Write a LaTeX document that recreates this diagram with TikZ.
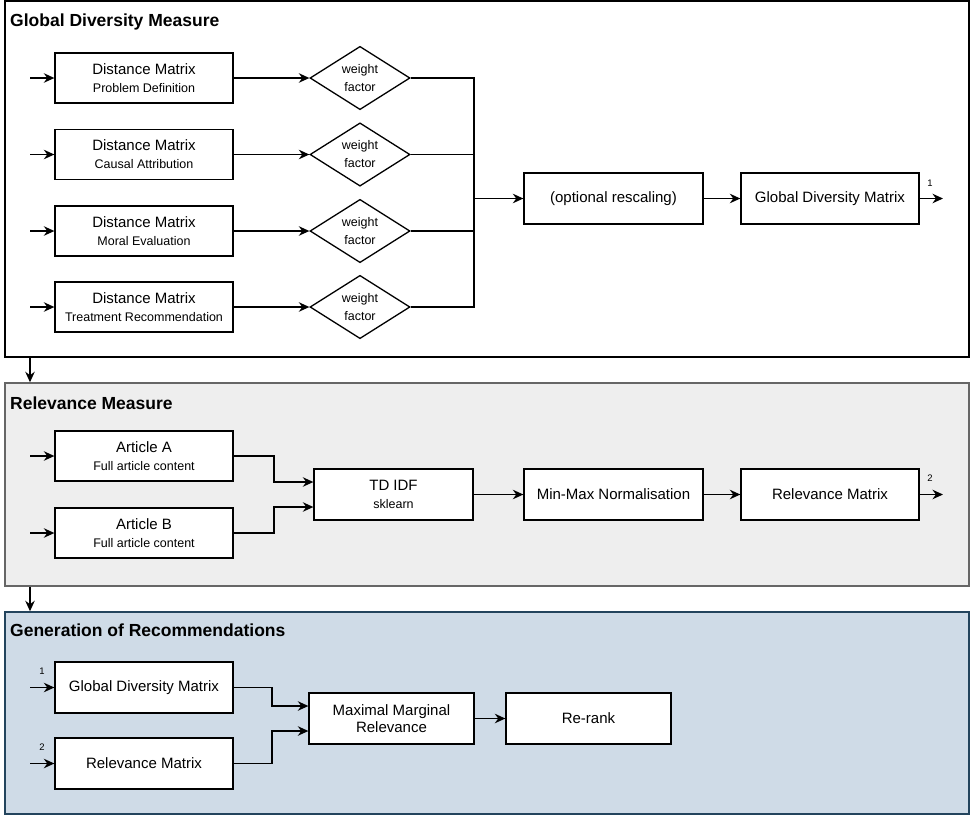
\documentclass[tikz,border=0pt]{standalone}
\usepackage{fontspec}
\setmainfont{Liberation Sans}
\usetikzlibrary{arrows.meta,shapes.geometric}
\definecolor{relfill}{HTML}{EEEEEE}
\definecolor{reldraw}{HTML}{666666}
\definecolor{genfill}{HTML}{CFDBE7}
\definecolor{gendraw}{HTML}{23445D}
\newcommand\subtxt[1]{{\fontsize{12.5}{15}\selectfont #1}}
\begin{document}
\begin{tikzpicture}[x=1pt,y=-1pt,
  section/.style={draw, line width=1.5pt, inner sep=0pt},
  sectitle/.style={anchor=west, inner sep=0pt, font=\fontsize{17.5}{20}\selectfont\bfseries},
  box/.style={draw, fill=white, line width=1.3pt, minimum width=178pt, minimum height=50pt, inner sep=0pt, align=center, font=\fontsize{15}{18}\selectfont},
  wdiam/.style={draw, fill=white, diamond, line width=1.3pt, minimum width=100pt, minimum height=63pt, inner sep=0pt, align=center, font=\fontsize{12.5}{18}\selectfont},
  arr/.style={line width=1.4pt, -{Stealth[length=10.5pt,width=9.5pt]}},
  conn/.style={line width=1.4pt},
  num/.style={inner sep=0pt, font=\fontsize{9.5}{11}\selectfont}
]
\useasboundingbox (0,0) rectangle (970,815);

% ---------- sections ----------
\node[section, fill=white, minimum width=964pt, minimum height=356pt] (gsec) at (487,179) {};
\node[section, fill=relfill, draw=reldraw, minimum width=964pt, minimum height=203pt] (rsec) at (487,484.5) {};
\node[section, fill=genfill, draw=gendraw, minimum width=964pt, minimum height=202pt] (nsec) at (487,713) {};

\node[sectitle] (gtitle) at (10,22) {Global Diversity Measure};
\node[sectitle] (rtitle) at (10,403) {Relevance Measure};
\node[sectitle] (ntitle) at (10,630) {Generation of Recommendations};

\coordinate (secx) at (30,0);
\draw[arr] (gsec.south -| secx) -- (rsec.north -| secx);
\draw[arr] (rsec.south -| secx) -- (nsec.north -| secx);

% ---------- Global Diversity Measure ----------
\node[box] (dm1) at (144,78) {Distance Matrix\\\subtxt{Problem Definition}};
\node[box] (dm2) at (144,154.5) {Distance Matrix\\\subtxt{Causal Attribution}};
\node[box] (dm3) at (144,231) {Distance Matrix\\\subtxt{Moral Evaluation}};
\node[box] (dm4) at (144,307) {Distance Matrix\\\subtxt{Treatment Recommendation}};

\foreach \i/\y in {1/78,2/154.5,3/231,4/307}{
  \coordinate (gin\i) at (30,\y);
  \node[wdiam] (w\i) at (360,\y) {weight\\factor};
  \draw[arr] (gin\i) -- (dm\i);
  \draw[arr] (dm\i) -- (w\i);
}
\coordinate (jx) at (474,198.5);
\foreach \i in {1,2,3,4}{ \draw[conn] (w\i.east) -| (jx); }

\node[box, minimum width=179pt, minimum height=51pt] (resc) at (613.5,198.5) {(optional rescaling)};
\node[box, minimum height=51pt] (gdm) at (830,198.5) {Global Diversity Matrix};
\coordinate (out1) at (943,198.5);
\draw[arr] (jx) -- (resc);
\draw[arr] (resc) -- (gdm);
\draw[arr] (gdm) -- (out1);
\node[num] (n1) at (930,183) {1};

% ---------- Relevance Measure ----------
\node[box] (artA) at (144,456) {Article A\\\subtxt{Full article content}};
\node[box] (artB) at (144,533) {Article B\\\subtxt{Full article content}};
\coordinate (rin1) at (30,456);
\coordinate (rin2) at (30,533);
\draw[arr] (rin1) -- (artA);
\draw[arr] (rin2) -- (artB);

\node[box, minimum width=159pt, minimum height=51pt] (tdidf) at (393.5,494.5) {TD IDF\\\subtxt{sklearn}};
\coordinate (rjx) at (274,0);
\draw[arr] (artA.east) -| (rjx |- 0,482) -- ([yshift=12.5pt]tdidf.west);
\draw[arr] (artB.east) -| (rjx |- 0,507) -- ([yshift=-12.5pt]tdidf.west);

\node[box, minimum width=179pt, minimum height=51pt] (mm) at (613.5,494.5) {Min-Max Normalisation};
\node[box, minimum height=51pt] (relm) at (830,494.5) {Relevance Matrix};
\coordinate (out2) at (943,494.5);
\draw[arr] (tdidf) -- (mm);
\draw[arr] (mm) -- (relm);
\draw[arr] (relm) -- (out2);
\node[num] (n2) at (930,478) {2};

% ---------- Generation of Recommendations ----------
\node[box, minimum height=51pt] (ggdm) at (144,687.5) {Global Diversity Matrix};
\node[box, minimum height=51pt] (grm) at (144,763.5) {Relevance Matrix};
\coordinate (nin1) at (30,687.5);
\coordinate (nin2) at (30,763.5);
\draw[arr] (nin1) -- (ggdm);
\draw[arr] (nin2) -- (grm);
\node[num] (n3) at (42,671) {1};
\node[num] (n4) at (42,747) {2};

\node[box, minimum width=165pt, minimum height=51pt, font=\fontsize{15}{17}\selectfont] (mmr) at (391.5,718.5) {Maximal Marginal\\Relevance};
\coordinate (njx) at (272,0);
\draw[arr] (ggdm.east) -| (njx |- 0,706) -- ([yshift=12.5pt]mmr.west);
\draw[arr] (grm.east) -| (njx |- 0,731) -- ([yshift=-12.5pt]mmr.west);

\node[box, minimum width=165pt, minimum height=51pt] (rerank) at (588.5,718.5) {Re-rank};
\draw[arr] (mmr) -- (rerank);
\end{tikzpicture}
\end{document}
